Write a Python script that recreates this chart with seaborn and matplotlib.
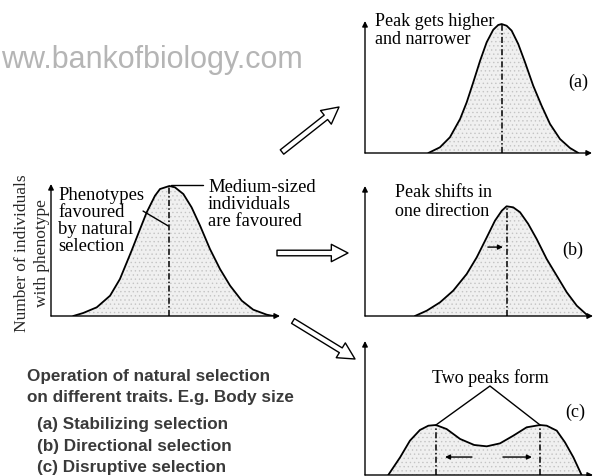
import matplotlib
matplotlib.use("Agg")
import matplotlib.pyplot as plt
import seaborn as sns
import pandas as pd
from matplotlib.patches import FancyArrowPatch, ArrowStyle

# ---------------- data ----------------
# Original population (trait value 0-100, number of individuals 0-100)
main_x = [9.7, 14.1, 20.0, 25.8, 30.1, 35.2, 38.9, 41.8, 45.4, 47.6, 51.7,
          54.1, 57.8, 61.4, 65.1, 69.4, 73.8, 78.2, 83.3, 88.3, 94.2, 97.1]
main_y = [0, 2.3, 6.6, 15.4, 28.0, 49.5, 65.9, 78.6, 91.1, 96.2, 98.5,
          97.5, 92.4, 82.3, 68.4, 50.8, 35.6, 23.0, 11.6, 4.8, 1.0, 0]
main_peaks = [51.7]

# (a) Stabilizing
a_x = [27.9, 33.0, 37.4, 41.9, 44.8, 47.7, 50.7, 53.6, 56.5, 58.7, 60.2,
       62.4, 64.6, 67.5, 70.5, 74.1, 77.8, 81.5, 85.9, 90.3, 94.0]
a_y = [0, 4.3, 11.9, 25.8, 38.4, 53.6, 69.9, 83.9, 93.4, 97.0, 97.7,
       96.4, 92.7, 82.6, 68.7, 51.0, 35.8, 22.0, 10.6, 3.8, 0]
a_peaks = [60.2]

# (b) Directional
b_x = [21.9, 27.1, 32.9, 38.7, 44.6, 49.0, 53.4, 57.0, 60.0, 62.1,
       65.0, 68.0, 71.6, 75.3, 79.7, 84.1, 88.5, 92.9, 97.9]
b_y = [0, 4.1, 10.5, 19.5, 32.3, 45.1, 60.5, 73.3, 81.0, 84.4,
       83.6, 79.8, 70.8, 59.2, 43.8, 31.0, 18.2, 7.9, 0]
b_peaks = [62.1]

# (c) Disruptive
c_x = [10.2, 15.4, 19.7, 24.1, 27.8, 31.1, 35.8, 41.7, 47.9, 53.4, 59.2,
       65.0, 70.9, 76.8, 79.7, 84.1, 87.7, 91.4, 95.0]
c_y = [0, 13.2, 25.6, 33.6, 36.8, 37.3, 34.3, 26.9, 22.4, 21.4, 23.6,
       29.3, 35.6, 37.3, 36.8, 33.1, 24.4, 13.2, 0]
c_peaks = [31.1, 76.8]

# ---------------- style ----------------
sns.set_style("white")
plt.rcParams["font.family"] = ["Liberation Serif", "DejaVu Serif"]
plt.rcParams["hatch.linewidth"] = 0.5

W, H = 593, 477
fig = plt.figure(figsize=(W / 100, H / 100), dpi=100)
fig.patch.set_facecolor("white")

bg = fig.add_axes([0, 0, 1, 1])
bg.set_xlim(0, W)
bg.set_ylim(H, 0)
bg.axis("off")


def panel(x0, x1, ytop, ybot):
    ax = fig.add_axes([x0 / W, (H - ybot) / H, (x1 - x0) / W, (ybot - ytop) / H])
    ax.set_xlim(0, 100)
    ax.set_ylim(0, 100)
    ax.axis("off")
    ap = dict(arrowstyle="-|>", lw=1.0, color="black", mutation_scale=8,
              shrinkA=0, shrinkB=0)
    ax.annotate("", xy=(1, 0), xytext=(0, 0), xycoords="axes fraction",
                arrowprops=ap, annotation_clip=False)
    ax.annotate("", xy=(0, 1), xytext=(0, 0), xycoords="axes fraction",
                arrowprops=ap, annotation_clip=False)
    return ax


def draw_curve(ax, xs, ys, peaks):
    df = pd.DataFrame({"trait": xs, "count": ys})
    ax.fill_between(df["trait"], df["count"], 0, facecolor="#f0f0f0",
                    edgecolor="#c4c4c4", hatch="....", linewidth=0, zorder=1)
    sns.lineplot(data=df, x="trait", y="count", ax=ax, color="black",
                 lw=1.3, estimator=None, zorder=3)
    for p in peaks:
        top = df.loc[(df["trait"] - p).abs().idxmin(), "count"]
        ax.plot([p, p], [0, top], color="black", lw=1.1,
                linestyle=(0, (4, 1.5, 1, 1.5)), zorder=2)
    ax.set_xlim(0, 100)
    ax.set_ylim(0, 100)
    ax.set_xlabel("")
    ax.set_ylabel("")
    ax.axis("off")


ax0 = panel(51, 280, 185, 317)
draw_curve(ax0, main_x, main_y, main_peaks)
axa = panel(365, 592, 22, 154)
draw_curve(axa, a_x, a_y, a_peaks)
axb = panel(365, 593, 187, 317)
draw_curve(axb, b_x, b_y, b_peaks)
axc = panel(365, 593, 342, 476)
draw_curve(axc, c_x, c_y, c_peaks)

# pointer lines in main panel
ax0.plot([52.5, 66.4], [99.2, 99.2], color="black", lw=1.0)
ax0.plot([40.2, 51.2], [79.5, 68.2], color="black", lw=1.0)
# small arrow in (b)
axb.annotate("", xy=(60.5, 53), xytext=(53.9, 53),
             arrowprops=dict(arrowstyle="-|>", lw=1.0, color="black",
                             mutation_scale=7, shrinkA=0, shrinkB=0))
# arrows in (c)
for x0_, x1_ in [(46.9, 35.1), (60.5, 73.2)]:
    axc.annotate("", xy=(x1_, 13.4), xytext=(x0_, 13.4),
                 arrowprops=dict(arrowstyle="-|>", lw=1.0, color="black",
                                 mutation_scale=7, shrinkA=0, shrinkB=0))
# "Two peaks form" connectors
axc.plot([31.1, 54.8, 76.8], [37.3, 66.4, 37.3], color="black", lw=1.0,
         clip_on=False)

# ---------------- hollow transition arrows ----------------
hstyle = ArrowStyle.Simple(head_length=12, head_width=12.5, tail_width=4)
for a, b in [((282, 153), (339, 108)), ((277, 254), (348, 254)),
             ((293, 322), (355, 360))]:
    bg.add_patch(FancyArrowPatch(a, b, arrowstyle=hstyle, mutation_scale=1,
                                 fc="white", ec="black", lw=1.0,
                                 shrinkA=0, shrinkB=0))

# ---------------- texts ----------------
serif_main = dict(fontsize=13.4, color="black", family=["Liberation Serif"])
serif = dict(fontsize=13, color="black", family=["Liberation Serif"])
for s, y in [("Phenotypes", 196), ("favoured", 213), ("by natural", 230),
             ("selection", 247)]:
    bg.text(58, y, s, ha="left", va="center", **serif_main)
for s, y in [("Medium-sized", 188), ("individuals", 205), ("are favoured", 222)]:
    bg.text(208, y, s, ha="left", va="center", **serif_main)
for s, y in [("Peak gets higher", 22), ("and narrower", 40)]:
    bg.text(375, y, s, ha="left", va="center", **serif)
for s, y in [("Peak shifts in", 193), ("one direction", 212)]:
    bg.text(395, y, s, ha="left", va="center", **serif)
bg.text(490, 378, "Two peaks form", ha="center", va="center", **serif)
bg.text(578, 82, "(a)", ha="center", va="center", **serif)
bg.text(573, 250, "(b)", ha="center", va="center", **serif)
bg.text(575, 412, "(c)", ha="center", va="center", **serif)

bg.text(22, 253, "Number of individuals", rotation=90, ha="center",
        va="center", fontsize=12.5, family=["Liberation Serif"])
bg.text(42, 253, "with phenotype", rotation=90, ha="center", va="center",
        fontsize=12.5, family=["Liberation Serif"])

bg.text(1, 60, "ww.bankofbiology.com", ha="left", va="center",
        fontsize=22, color="#b5b5b5", family=["Liberation Sans"])

sans = dict(fontsize=12.3, color="#3a3a3a", fontweight="bold",
            family=["Liberation Sans"], ha="left", va="center")
bg.text(27, 377, "Operation of natural selection", **sans)
bg.text(27, 398, "on different traits. E.g. Body size", **sans)
bg.text(37, 425, "(a) Stabilizing selection", **sans)
bg.text(37, 447, "(b) Directional selection", **sans)
bg.text(37, 468, "(c) Disruptive selection", **sans)

fig.savefig("out.png", dpi=100, facecolor="white")
